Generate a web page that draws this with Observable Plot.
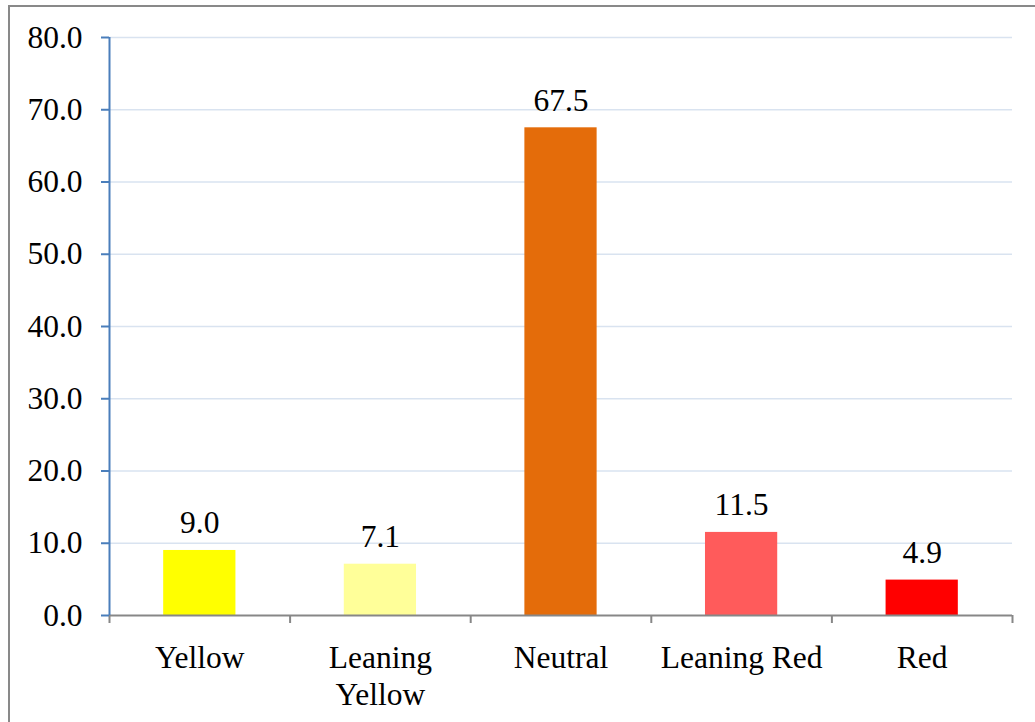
<!DOCTYPE html>
<html>
<head>
<meta charset="utf-8">
<script src="https://cdn.jsdelivr.net/npm/d3@7"></script>
<script src="https://cdn.jsdelivr.net/npm/@observablehq/plot@0.6"></script>
<style>
  html, body { margin: 0; padding: 0; background: #fff; overflow: hidden; }
  #wrap { position: relative; width: 1035px; height: 722px; overflow: hidden; }
  #border { position: absolute; left: 8px; top: 5px; width: 2000px; height: 2000px;
            border: 2px solid #898989; pointer-events: none; box-sizing: border-box; }
</style>
</head>
<body>
<div id="wrap"><div id="border"></div></div>
<script>
const categories = ["Yellow", "Leaning\nYellow", "Neutral", "Leaning Red", "Red"];
const values = [9.0, 7.1, 67.5, 11.5, 4.9];
const colors = ["#ffff00", "#ffff99", "#e46c0a", "#ff5b5b", "#ff0000"];
const yTicks = [0, 10, 20, 30, 40, 50, 60, 70, 80];

const data = categories.map((c, i) => ({i, label: c, value: values[i], color: colors[i]}));
const boundaries = d3.range(categories.length + 1);
const font = "'Liberation Serif', 'Times New Roman', serif";
const fs = 31.5;

const chart = Plot.plot({
  width: 1035,
  height: 722,
  marginLeft: 109,
  marginRight: 23,
  marginTop: 37,
  marginBottom: 107,
  style: {fontFamily: font, fontSize: fs + "px", background: "transparent", color: "black"},
  x: {domain: [0, categories.length], axis: null},
  y: {domain: [0, 80], axis: null},
  color: {type: "identity"},
  marks: [
    Plot.gridY(yTicks.filter(d => d > 0), {stroke: "#d9e3f0", strokeOpacity: 1, strokeWidth: 1.6}),
    Plot.rectY(data, {x1: d => d.i + 0.3, x2: d => d.i + 0.7, y: "value", fill: "color"}),
    Plot.text(data, {x: d => d.i + 0.5, y: "value", text: d => d.value.toFixed(1),
      lineAnchor: "bottom", dy: -17, fontSize: fs, fontFamily: font, fill: "black"}),
    Plot.ruleY([0], {stroke: "#878787", strokeWidth: 2}),
    Plot.axisX({ticks: boundaries, tickSize: 8, tickFormat: () => "", label: null,
      stroke: "#878787", strokeWidth: 2}),
    Plot.text(data, {x: d => d.i + 0.5, y: 0, text: "label", lineAnchor: "top",
      dy: 26, lineHeight: 1.17, fontSize: fs, fontFamily: font, fill: "black"}),
    Plot.ruleX([0], {stroke: "#4a7ebb", strokeWidth: 2}),
    Plot.axisY({ticks: yTicks, tickSize: 8, tickPadding: 19, tickFormat: d => d.toFixed(1),
      label: null, stroke: "#4a7ebb", strokeWidth: 2, fill: "black", fontSize: fs, fontFamily: font})
  ]
});
document.getElementById("wrap").prepend(chart);
</script>
</body>
</html>
